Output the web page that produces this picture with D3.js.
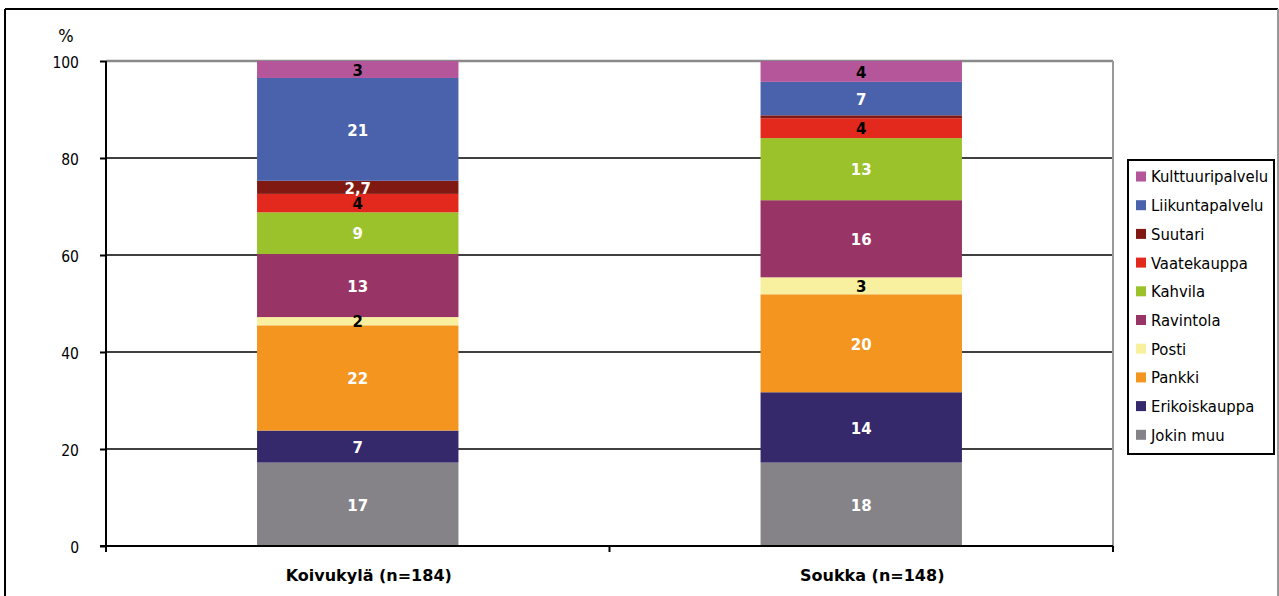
<!DOCTYPE html>
<html>
<head>
<meta charset="utf-8">
<script src="https://cdn.jsdelivr.net/npm/d3@7"></script>
<style>
  html, body { margin: 0; padding: 0; background: #fff; }
  svg { display: block; }
</style>
</head>
<body>
<svg id="chart" width="1279" height="596"></svg>
<script>
// ---- data ----
const categories = ["Koivukylä (n=184)", "Soukka (n=148)"];
const seriesNames = ["Jokin muu", "Erikoiskauppa", "Pankki", "Posti", "Ravintola", "Kahvila", "Vaatekauppa", "Suutari", "Liikuntapalvelu", "Kulttuuripalvelu"];
const koivukylaValues = [17.2, 6.6, 21.7, 1.7, 13.0, 8.6, 3.8, 2.7, 21.2, 3.5];
const soukkaValues    = [17.2, 14.5, 20.2, 3.5, 15.9, 12.8, 4.1, 0.6, 6.9, 4.3];
const koivukylaLabels = ["17", "7", "22", "2", "13", "9", "4", "2,7", "21", "3"];
const soukkaLabels    = ["18", "14", "20", "3", "16", "13", "4", "", "7", "4"];
const seriesColors = ["#858388", "#35286b", "#f3951f", "#f9f09f", "#993466", "#9bc22a", "#e3281e", "#7f1912", "#4a62ab", "#b5569b"];
const labelColors  = ["#fff", "#fff", "#fff", "#000", "#fff", "#fff", "#000", "#fff", "#fff", "#000"];
const yTicks = [0, 20, 40, 60, 80, 100];
const yTitle = "%";

// ---- build table ----
const valuesByCat = [koivukylaValues, soukkaValues];
const labelsByCat = [koivukylaLabels, soukkaLabels];
const rows = categories.map((c, i) => {
  const r = { cat: c, idx: i };
  seriesNames.forEach((s, j) => { r[s] = valuesByCat[i][j]; });
  return r;
});

const svg = d3.select("#chart");
const plot = { left: 106, right: 1113, top: 61, bottom: 546 };

const x = d3.scaleBand().domain(categories).range([plot.left, plot.right])
  .paddingInner(0.6).paddingOuter(0.3);
const y = d3.scaleLinear().domain([0, 100]).range([plot.bottom, plot.top]);
const color = d3.scaleOrdinal().domain(seriesNames).range(seriesColors);

const FONT = "'DejaVu Sans Condensed', 'DejaVu Sans', sans-serif";
const BOLD = "'DejaVu Sans', sans-serif";

// outer frame
svg.append("line").attr("x1", 5).attr("x2", 1278).attr("y1", 9).attr("y2", 9)
  .attr("stroke", "#000").attr("stroke-width", 2);
svg.append("line").attr("x1", 5).attr("x2", 5).attr("y1", 9).attr("y2", 600)
  .attr("stroke", "#000").attr("stroke-width", 2);
svg.append("line").attr("x1", 1278).attr("x2", 1278).attr("y1", 9).attr("y2", 600)
  .attr("stroke", "#999").attr("stroke-width", 2);

// gridlines
const gridTicks = yTicks.filter(t => t > 0);
svg.append("g").selectAll("line").data(gridTicks).join("line")
  .attr("x1", plot.left).attr("x2", plot.right)
  .attr("y1", d => y(d)).attr("y2", d => y(d))
  .attr("stroke", d => d === 100 ? "#8a8a8a" : "#000")
  .attr("stroke-width", d => d === 100 ? 2.5 : 1.5);

// plot right border
svg.append("line").attr("x1", plot.right).attr("x2", plot.right)
  .attr("y1", y(100)).attr("y2", y(0))
  .attr("stroke", "#999").attr("stroke-width", 2);

// stacked bars
const stack = d3.stack().keys(seriesNames);
const layers = stack(rows);

const gBars = svg.append("g");
layers.forEach((layer, j) => {
  const g = gBars.append("g").attr("fill", color(layer.key));
  g.selectAll("rect").data(layer).join("rect")
    .attr("x", d => x(d.data.cat))
    .attr("width", x.bandwidth())
    .attr("y", d => y(d[1]))
    .attr("height", d => y(d[0]) - y(d[1]));
});

// data labels
const gLabels = svg.append("g");
layers.forEach((layer, j) => {
  gLabels.append("g").selectAll("text").data(layer).join("text")
    .attr("x", d => x(d.data.cat) + x.bandwidth() / 2)
    .attr("y", d => (y(d[0]) + y(d[1])) / 2 + 1)
    .attr("dy", "0.35em")
    .attr("text-anchor", "middle")
    .attr("font-family", BOLD)
    .attr("font-weight", "bold")
    .attr("font-size", 15)
    .attr("fill", labelColors[j])
    .text(d => labelsByCat[d.data.idx][j]);
});

// y axis
const yAxis = d3.axisLeft(y).tickValues(yTicks).tickSize(6).tickPadding(21).tickFormat(d3.format("d"));
const gy = svg.append("g").attr("transform", `translate(${plot.left},0)`).call(yAxis);
gy.select(".domain").remove();
gy.selectAll(".tick line").attr("stroke", "#000").attr("stroke-width", 2);
gy.selectAll(".tick text").attr("font-family", FONT).attr("font-size", 15.5)
  .attr("fill", "#000").attr("dy", "0.45em");
svg.append("line").attr("x1", plot.left).attr("x2", plot.left)
  .attr("y1", y(100)).attr("y2", y(0) + 6).attr("stroke", "#000").attr("stroke-width", 2);

// x axis line and ticks at category boundaries
svg.append("line").attr("x1", plot.left - 6).attr("x2", plot.right)
  .attr("y1", y(0)).attr("y2", y(0)).attr("stroke", "#000").attr("stroke-width", 2);
const step = x.step();
const boundaries = [plot.left].concat(categories.map(c => x(c) + x.bandwidth() + step * x.paddingInner() / 2));
boundaries[boundaries.length - 1] = plot.right;
svg.append("g").selectAll("line").data(boundaries).join("line")
  .attr("x1", d => d).attr("x2", d => d)
  .attr("y1", y(0)).attr("y2", y(0) + 6)
  .attr("stroke", "#000").attr("stroke-width", 2);

// category labels
svg.append("g").selectAll("text").data(categories).join("text")
  .attr("x", d => x(d) + x.bandwidth() / 2 + 11)
  .attr("y", 581)
  .attr("text-anchor", "middle")
  .attr("font-family", BOLD)
  .attr("font-weight", "bold")
  .attr("font-size", 16)
  .attr("fill", "#000")
  .text(d => d);

// y title
svg.append("text").attr("x", 66).attr("y", 42).attr("text-anchor", "middle")
  .attr("font-family", FONT).attr("font-size", 18).attr("fill", "#000").text(yTitle);

// legend
const legendItems = seriesNames.slice().reverse();
const lg = svg.append("g");
lg.append("rect").attr("x", 1128).attr("y", 160).attr("width", 146).attr("height", 294)
  .attr("fill", "#fff").attr("stroke", "#000").attr("stroke-width", 2);
const li = lg.selectAll("g.item").data(legendItems).join("g").attr("class", "item")
  .attr("transform", (d, i) => `translate(1136, ${176.5 + i * 28.7})`);
li.append("rect").attr("x", 0).attr("y", -5).attr("width", 10).attr("height", 10)
  .attr("fill", d => color(d));
li.append("text").attr("x", 15).attr("y", 0).attr("dy", "0.36em")
  .attr("font-family", FONT).attr("font-size", 16.5).attr("fill", "#000").text(d => d);
</script>
</body>
</html>
